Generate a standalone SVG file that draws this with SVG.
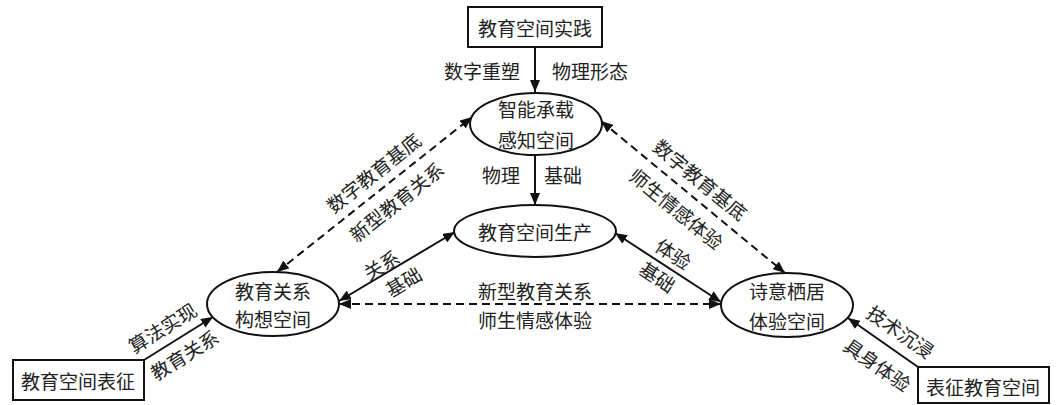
<svg xmlns="http://www.w3.org/2000/svg" width="1056" height="405" viewBox="0 0 1056 405">
<defs>
<style>
text{font-family:"Noto Sans CJK SC","Noto Sans",sans-serif;font-size:19px;fill:#222;text-anchor:middle;dominant-baseline:central}
.n{fill:#fff;stroke:#111;stroke-width:2}
.c{stroke:#111;stroke-width:2;fill:none}
.d{stroke-dasharray:8 5}
</style>
<marker id="ah" viewBox="0 0 12 10" refX="12" refY="5" markerWidth="12" markerHeight="10" markerUnits="userSpaceOnUse" orient="auto-start-reverse">
<path d="M0,0 L12,5 L0,10 z" fill="#111"/>
</marker>
</defs>
<rect width="1056" height="405" fill="#fff"/>
<g id="connectors">
<line class="c" x1="535" y1="47" x2="535" y2="92" marker-end="url(#ah)"/>
<line class="c" x1="535" y1="155" x2="535" y2="205" marker-end="url(#ah)"/>
<line class="c d" x1="277" y1="272" x2="472" y2="117" marker-start="url(#ah)" marker-end="url(#ah)"/>
<line class="c d" x1="601" y1="121" x2="785" y2="273" marker-start="url(#ah)" marker-end="url(#ah)"/>
<line class="c" x1="339" y1="301" x2="455" y2="232" marker-start="url(#ah)" marker-end="url(#ah)"/>
<line class="c" x1="721" y1="302" x2="615" y2="233" marker-start="url(#ah)" marker-end="url(#ah)"/>
<line class="c d" x1="339" y1="304" x2="721" y2="304" marker-start="url(#ah)" marker-end="url(#ah)"/>
<line class="c" x1="144" y1="360" x2="213" y2="317" marker-end="url(#ah)"/>
<line class="c" x1="918" y1="367" x2="848" y2="318" marker-end="url(#ah)"/>
<text x="482" y="70">数字重塑</text>
<text x="590" y="70">物理形态</text>
<text x="501" y="174">物理</text>
<text x="563" y="174">基础</text>
<text transform="translate(373,172) rotate(-38.5)">数字教育基底</text>
<text transform="translate(396,201) rotate(-38.5)">新型教育关系</text>
<text transform="translate(701,179) rotate(39.5)">数字教育基底</text>
<text transform="translate(677,208) rotate(39.5)">师生情感体验</text>
<text transform="translate(381,264) rotate(-30.6)">关系</text>
<text transform="translate(403,281) rotate(-30.6)">基础</text>
<text transform="translate(674,253) rotate(33)">体验</text>
<text transform="translate(658,276) rotate(33)">基础</text>
<text x="535" y="290">新型教育关系</text>
<text x="535" y="319">师生情感体验</text>
<text transform="translate(162,327) rotate(-32)">算法实现</text>
<text transform="translate(184,354) rotate(-32)">教育关系</text>
<text transform="translate(901,331) rotate(35)">技术沉浸</text>
<text transform="translate(878,364) rotate(35)">具身体验</text>
</g>
<g id="practice">
<rect class="n" x="468" y="7" width="134" height="40"/>
<text x="535" y="27">教育空间实践</text>
</g>
<g id="perception">
<ellipse class="n" cx="536" cy="124" rx="66" ry="31"/>
<text x="536" y="108">智能承载</text>
<text x="536" y="139">感知空间</text>
</g>
<g id="production">
<ellipse class="n" cx="535" cy="231" rx="81" ry="26"/>
<text x="535" y="231">教育空间生产</text>
</g>
<g id="relation">
<ellipse class="n" cx="273" cy="304" rx="66" ry="32"/>
<text x="273" y="290">教育关系</text>
<text x="273" y="318">构想空间</text>
</g>
<g id="dwelling">
<ellipse class="n" cx="787" cy="305" rx="66" ry="32"/>
<text x="787" y="290">诗意栖居</text>
<text x="787" y="320">体验空间</text>
</g>
<g id="representation">
<rect class="n" x="13" y="360" width="131" height="40"/>
<text x="78" y="380">教育空间表征</text>
</g>
<g id="represented">
<rect class="n" x="918" y="367" width="131" height="36"/>
<text x="983" y="386">表征教育空间</text>
</g>
</svg>
